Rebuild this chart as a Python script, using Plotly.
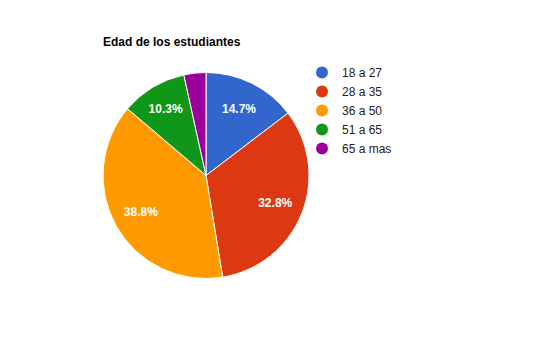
import plotly.graph_objects as go

labels = ["18 a 27", "28 a 35", "36 a 50", "51 a 65", "65 a mas"]
counts = [17, 38, 45, 12, 4]
colors = ["#3366CC", "#DC3912", "#FF9900", "#109618", "#990099"]
title = "Edad de los estudiantes"

total = sum(counts)
templates = ["%{percent:.1%}" if c / total >= 0.05 else "" for c in counts]
dom = dict(x=[103/540, 309/540], y=[1-279/351, 1-72/351])

fig = go.Figure()
fig.add_trace(go.Pie(
    labels=labels, values=counts, sort=False, direction="clockwise", rotation=0,
    marker=dict(colors=colors, line=dict(color="white", width=1)),
    textinfo="none", hoverinfo="label+value+percent", showlegend=False,
    domain=dom,
))
# transparent ring used only to place the percentage labels further out
fig.add_trace(go.Pie(
    labels=labels, values=counts, sort=False, direction="clockwise", rotation=0,
    hole=0.45,
    marker=dict(colors=["rgba(0,0,0,0)"] * len(labels), line=dict(width=0)),
    texttemplate=templates, textposition="inside", insidetextorientation="horizontal",
    textfont=dict(color="white", size=12, family="Arial", weight="bold"),
    hoverinfo="skip", showlegend=False, domain=dom,
))
for lab, col in zip(labels, colors):
    fig.add_trace(go.Scatter(
        x=[None], y=[None], mode="markers", name=lab,
        marker=dict(symbol="circle", size=12, color=col),
    ))

fig.update_layout(
    width=540, height=351, margin=dict(l=0, r=0, t=0, b=0),
    paper_bgcolor="white", plot_bgcolor="white",
    xaxis=dict(visible=False), yaxis=dict(visible=False),
    title=dict(text="<b>" + title + "</b>", x=103/540, xanchor="left",
               y=1-42/351, yanchor="middle",
               font=dict(family="Arial", size=12, color="#000000")),
    legend=dict(x=302/540, y=1-58/351, xanchor="left", yanchor="top",
                font=dict(family="Arial", size=12, color="#222222"),
                itemwidth=30, tracegroupgap=0, bgcolor="rgba(0,0,0,0)"),
    font=dict(family="Arial"),
)
fig.write_html("out.html")
